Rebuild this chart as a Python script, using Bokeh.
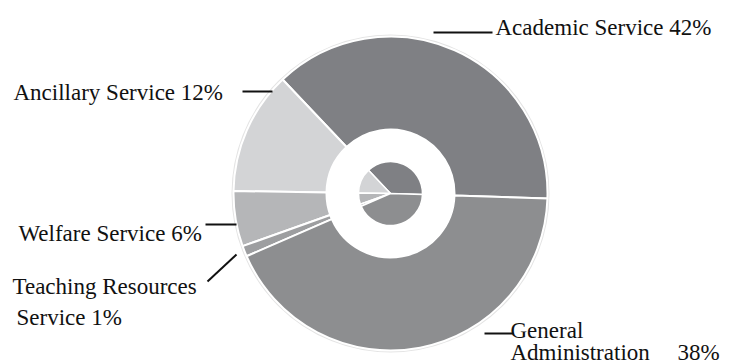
import numpy as np
from bokeh.plotting import figure
from bokeh.models import Range1d, ColumnDataSource
from bokeh.core.properties import value
from bokeh.embed import file_html
from bokeh.resources import INLINE

# ---- data ----
categories = ["Academic Service", "Ancillary Service", "Welfare Service",
              "Teaching Resources Service", "General Administration"]
shares = [37.6, 12.7, 5.7, 1.1, 43.0]          # slice sizes as drawn
label_texts = ["Academic Service 42%", "Ancillary  Service 12%", "Welfare Service 6%",
               "Teaching Resources", "Service 1%", "General", "Administration", "38%"]

# ---- style ----
colors = ["#7f8084", "#d3d4d6", "#b5b6b8", "#9d9ea0", "#8d8e90"]
W, H = 733, 364
cx, cy = 390, H - 193
R_out, R_ring, R_in = 157, 64, 32
start_deg = -1.8
FONT = "Liberation Serif"

vals = np.array(shares, dtype=float)
fr = vals / vals.sum()
ends = np.deg2rad(start_deg) + np.cumsum(fr) * 2 * np.pi
starts = np.concatenate([[np.deg2rad(start_deg)], ends[:-1]])

src = ColumnDataSource(dict(start=starts, end=ends, color=colors, cat=categories))

p = figure(width=W, height=H, x_range=Range1d(0, W), y_range=Range1d(0, H),
           output_backend="svg", toolbar_location=None, min_border=0,
           x_axis_type=None, y_axis_type=None)
p.grid.visible = False
p.outline_line_color = None
p.background_fill_color = "white"
p.border_fill_color = "white"

# faint rim
p.circle(x=[cx], y=[cy], radius=R_out + 1, fill_color=None, line_color="#e4e4e4", line_width=2)
# outer ring slices
p.annular_wedge(x=cx, y=cy, inner_radius=R_ring, outer_radius=R_out,
                start_angle="start", end_angle="end", fill_color="color",
                line_color="white", line_width=2, source=src)
# inner pie
p.wedge(x=cx, y=cy, radius=R_in, start_angle="start", end_angle="end",
        fill_color="color", line_color="white", line_width=1.5, source=src)

# ---- labels (pixel layout: x, baseline y from top) ----
lab_x = [495, 13, 18, 12, 16, 510, 510, 677]
lab_y = [27, 92, 233, 286, 317, 330, 352, 352]
p.text(x=lab_x, y=[H - v for v in lab_y], text=label_texts,
       text_font=value(FONT), text_font_size="23px",
       text_color="#111111", text_align="left", text_baseline="alphabetic")

# leader lines
x0 = [433, 242, 205, 207, 484]
y0 = [32, 91, 224, 281, 333]
x1 = [492, 272, 236, 236, 513]
y1 = [32, 91, 224, 254, 333]
p.segment(x0=x0, y0=[H - v for v in y0], x1=x1, y1=[H - v for v in y1],
          line_color="#111111", line_width=2)

open("out.html", "w").write(file_html(p, INLINE))
